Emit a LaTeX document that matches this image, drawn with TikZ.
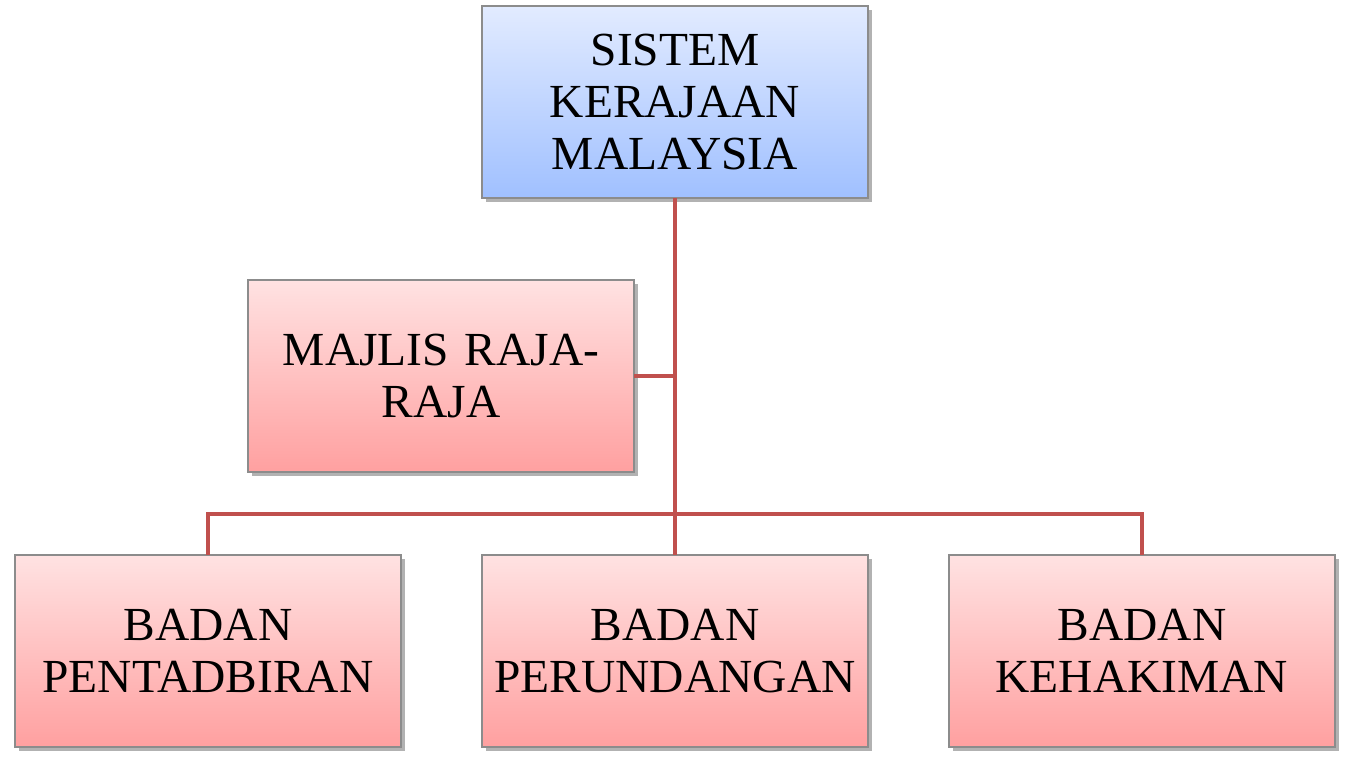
\documentclass[tikz,border=0pt]{standalone}
\usepackage{fontspec}
\setmainfont{Liberation Serif}
\usetikzlibrary{positioning,shadows}
\definecolor{linkred}{HTML}{C0504D}
\definecolor{bluetop}{HTML}{E2EBFF}
\definecolor{bluebot}{HTML}{A0C0FF}
\definecolor{redtop}{HTML}{FFE2E2}
\definecolor{redbot}{HTML}{FFA0A0}

\begin{document}
\begin{tikzpicture}[box/.style={draw=black!45,line width=0.6pt,align=center,text width=7.4cm,minimum width=7.72cm,minimum height=3.84cm,outer sep=0pt,font=\fontsize{27}{29.6}\selectfont,drop shadow={shadow xshift=0.7mm,shadow yshift=-0.7mm,opacity=0.3,fill=black}},bluebox/.style={box,top color=bluetop,bottom color=bluebot},redbox/.style={box,top color=redtop,bottom color=redbot},link/.style={draw=linkred,line width=2.3pt}]
\useasboundingbox (0,0) rectangle (27,-15.2);
\node[bluebox] (sistem) at (13.5,-2.04) {SISTEM\\KERAJAAN\\MALAYSIA};
\node[redbox,below=7.14cm of sistem] (perundangan) {BADAN\\PERUNDANGAN};
\node[redbox,left=1.62cm of perundangan] (pentadbiran) {BADAN\\PENTADBIRAN};
\node[redbox,right=1.62cm of perundangan] (kehakiman) {BADAN\\KEHAKIMAN};
\node[redbox,below left=1.64cm and 0.82cm of sistem.south] (majlis) {MAJLIS RAJA-\\RAJA};
\draw[link] (sistem.south)--(perundangan.north);
\draw[link] (majlis.east)--(majlis.east -| sistem.south);
\draw[link] (pentadbiran.north)--++(0,0.82) -| (kehakiman.north);
\end{tikzpicture}
\end{document}
